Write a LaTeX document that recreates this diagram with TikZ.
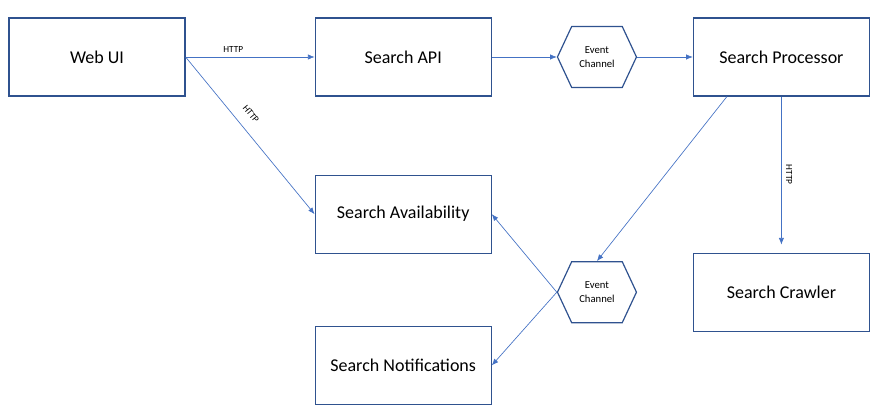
\documentclass[tikz,border=0pt]{standalone}
\usepackage{fontspec}
\setmainfont{Carlito}
\usetikzlibrary{arrows.meta, positioning, shapes.symbols}
\definecolor{boxline}{HTML}{2F528F}
\definecolor{linkline}{HTML}{4472C4}

\begin{document}
\begin{tikzpicture}[
      >={Latex[length=5pt, width=4pt]},
      font = \fontsize{13.5}{16}\selectfont,
      svc/.style={
        draw = boxline,
        line width = 0.9pt,
        fill = white,
        minimum width = 132pt,
        minimum height = 58.5pt,
        align = center,
      },
      chan/.style={
        draw = boxline,
        line width = 0.9pt,
        signal,
        signal to = east and west,
        signal pointer angle = 130,
        minimum width = 59.25pt,
        minimum height = 45.75pt,
        inner sep = 0pt,
        align = center,
        font = \fontsize{8}{10}\selectfont,
      },
      link/.style={->, draw = linkline, line width = 0.5pt},
      proto/.style={font = \fontsize{7}{8}\selectfont},
    ]
    \useasboundingbox (-72.75pt,42.75pt) rectangle (597.75pt,-270pt);
    \node[svc] (web) at (0,0) {Web UI};
    \node[svc, right = 96.75pt of web] (api) {Search API};
    \node[svc, right = 150.75pt of api] (proc) {Search Processor};
    \node[chan, right = 48.75pt of api] (evt1) {Event\\Channel};
    \node[svc, below = 58.5pt of api] (avail) {Search Availability};
    \node[svc, below = 54pt of avail] (notif) {Search Notifications};
    \node[svc, below = 117pt of proc] (crawl) {Search Crawler};
    \node[chan, below = 129.75pt of evt1] (evt2) {Event\\Channel};
    \draw[link]
      (web.east) -- node[proto, pos = 0.37, above] {HTTP} (api.west);
    \draw[link]
      (web.east) -- node[proto, pos = 0.42, sloped, above = 5pt] {HTTP} (avail.west);
    \draw[link] (api.east) -- (evt1.west);
    \draw[link] (evt1.east) -- (proc.west);
    \draw[link] (proc.216) -- (evt2.north);
    \draw[link, shorten >= 6pt]
      (proc.south) -- node[proto, midway, rotate = -90, anchor = south] {HTTP} (crawl.north);
    \draw[link] (evt2.west) -- (avail.east);
    \draw[link] (evt2.west) -- (notif.east);
  \end{tikzpicture}
\end{document}
